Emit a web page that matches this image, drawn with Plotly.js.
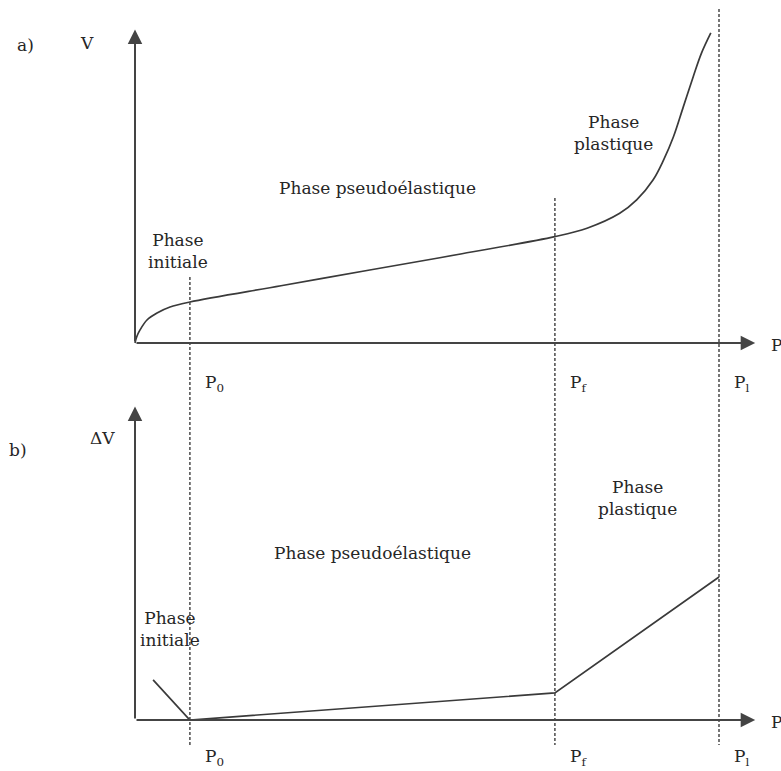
<!DOCTYPE html>
<html>
<head>
<meta charset="utf-8">
<script src="https://cdn.plot.ly/plotly-3.0.1.min.js"></script>
<style>
  html, body { margin: 0; padding: 0; background: #fff; }
  #chart { width: 781px; height: 771px; }
</style>
</head>
<body>
<div id="chart"></div>
<script>
// Characteristic pressures (P axis units)
const P0 = 0.94;   // P0 : fin de la phase initiale
const Pf = 7.19;   // Pf : pression de fluage
const Pl = 10.0;   // Pl : pression limite

// a) volume V versus pressure P
const curveP = [0, 0.03, 0.086, 0.205, 0.377, 0.6, 0.94, 2.5, 4.02, 5.6, 7.19, 7.74, 8.30, 8.59, 8.87, 9.05, 9.22, 9.39, 9.56, 9.70, 9.86];
const curveV = [0, 0.2, 0.42, 0.74, 0.965, 1.158, 1.318, 1.84, 2.347, 2.87, 3.42, 3.69, 4.17, 4.60, 5.24, 5.88, 6.63, 7.60, 8.57, 9.32, 9.97];

// b) volume increment ΔV versus pressure P
const deltaP = [0.31, P0, Pf, Pl];
const deltaV = [1.29, 0, 0.87, 4.60];

// Tick labels under the vertical markers
const markerP = [P0, Pf, Pl];
const markerLabels = ['P<sub>0</sub>', 'P<sub>f</sub>', 'P<sub>l</sub>'];

// Page geometry: pixels per unit and origins of the two panels
const W = 781, H = 771;
const pxPerP = 58.4, pxPerV = 31.1;
const originX = 135, originYa = 343, originYb = 720;

const xRange = [-originX / pxPerP, (W - originX) / pxPerP];
const yRangeA = [-(H - originYa) / pxPerV, originYa / pxPerV];
const yRangeB = [-(H - originYb) / pxPerV, originYb / pxPerV];
// convert a value on the lower panel's axis to the upper panel's axis
const bToA = v => v - (originYb - originYa) / pxPerV;

const axisLenP = 10.62, axisLenV = 10.08;

const ink = '#262626';
const textFont = { family: 'DejaVu Serif, Liberation Serif, serif', size: 17, color: ink };

const traces = [
  { x: curveP, y: curveV, xaxis: 'x', yaxis: 'y', mode: 'lines',
    line: { color: '#3a3a3a', width: 1.7, shape: 'spline', smoothing: 1 }, hoverinfo: 'skip' },
  { x: deltaP, y: deltaV, xaxis: 'x', yaxis: 'y2', mode: 'lines',
    line: { color: '#3a3a3a', width: 1.7 }, hoverinfo: 'skip' }
];

// vertical dotted markers, top ends on panel a, bottom end below panel b
const markerTops = [2.12, 4.66, 10.74];
const markerBottom = bToA(-0.8);
const shapes = markerP.map((p, i) => ({
  type: 'line', xref: 'x', yref: 'y', x0: p, x1: p, y0: markerTops[i], y1: markerBottom,
  line: { color: '#4a4a4a', width: 1.5, dash: '3px,2px' }
}));

// axes drawn as arrows
function arrow(x, y, ax, ay, yref) {
  return { xref: 'x', yref: yref, axref: 'x', ayref: yref, x: x, y: y, ax: ax, ay: ay,
    text: '', showarrow: true, arrowhead: 2, arrowsize: 1.45, arrowwidth: 2, arrowcolor: '#444', standoff: 0 };
}
function label(text, x, y, yref, opts) {
  return Object.assign({ xref: 'x', yref: yref, x: x, y: y, text: text, showarrow: false,
    font: textFont, xanchor: 'center', yanchor: 'middle' }, opts || {});
}

const annotations = [
  arrow(0, axisLenV, 0, 0, 'y'),
  arrow(axisLenP, 0, 0, 0, 'y'),
  arrow(0, axisLenV, 0, 0, 'y2'),
  arrow(axisLenP, 0, 0, 0, 'y2'),

  label('a)', -1.88, 9.58, 'y'),
  label('V', -0.82, 9.65, 'y'),
  label('P', 10.86, -0.05, 'y', { xanchor: 'left' }),
  label('Phase<br>initiale', 0.74, 2.96, 'y'),
  label('Phase pseudoélastique', 4.16, 4.98, 'y'),
  label('Phase<br>plastique', 8.20, 6.75, 'y'),

  label('b)', -2.0, 8.68, 'y2'),
  label('ΔV', -0.55, 9.07, 'y2'),
  label('P', 10.86, -0.05, 'y2', { xanchor: 'left' }),
  label('Phase<br>initiale', 0.60, 2.93, 'y2'),
  label('Phase pseudoélastique', 4.06, 5.37, 'y2'),
  label('Phase<br>plastique', 8.61, 7.14, 'y2')
];
markerP.forEach((p, i) => {
  annotations.push(label(markerLabels[i], p, -1.3, 'y', { xanchor: 'left', xshift: 13 }));
  annotations.push(label(markerLabels[i], p, -1.19, 'y2', { xanchor: 'left', xshift: 13 }));
});

const hidden = { visible: false, showgrid: false, zeroline: false, fixedrange: true };
const layout = {
  width: W, height: H,
  margin: { l: 0, r: 0, t: 0, b: 0, pad: 0 },
  paper_bgcolor: '#fff', plot_bgcolor: '#fff',
  showlegend: false,
  xaxis: Object.assign({ range: xRange, domain: [0, 1] }, hidden),
  yaxis: Object.assign({ range: yRangeA, domain: [0, 1] }, hidden),
  yaxis2: Object.assign({ range: yRangeB, domain: [0, 1], overlaying: 'y' }, hidden),
  shapes: shapes,
  annotations: annotations
};

Plotly.newPlot('chart', traces, layout, { staticPlot: true, displayModeBar: false });
</script>
</body>
</html>
